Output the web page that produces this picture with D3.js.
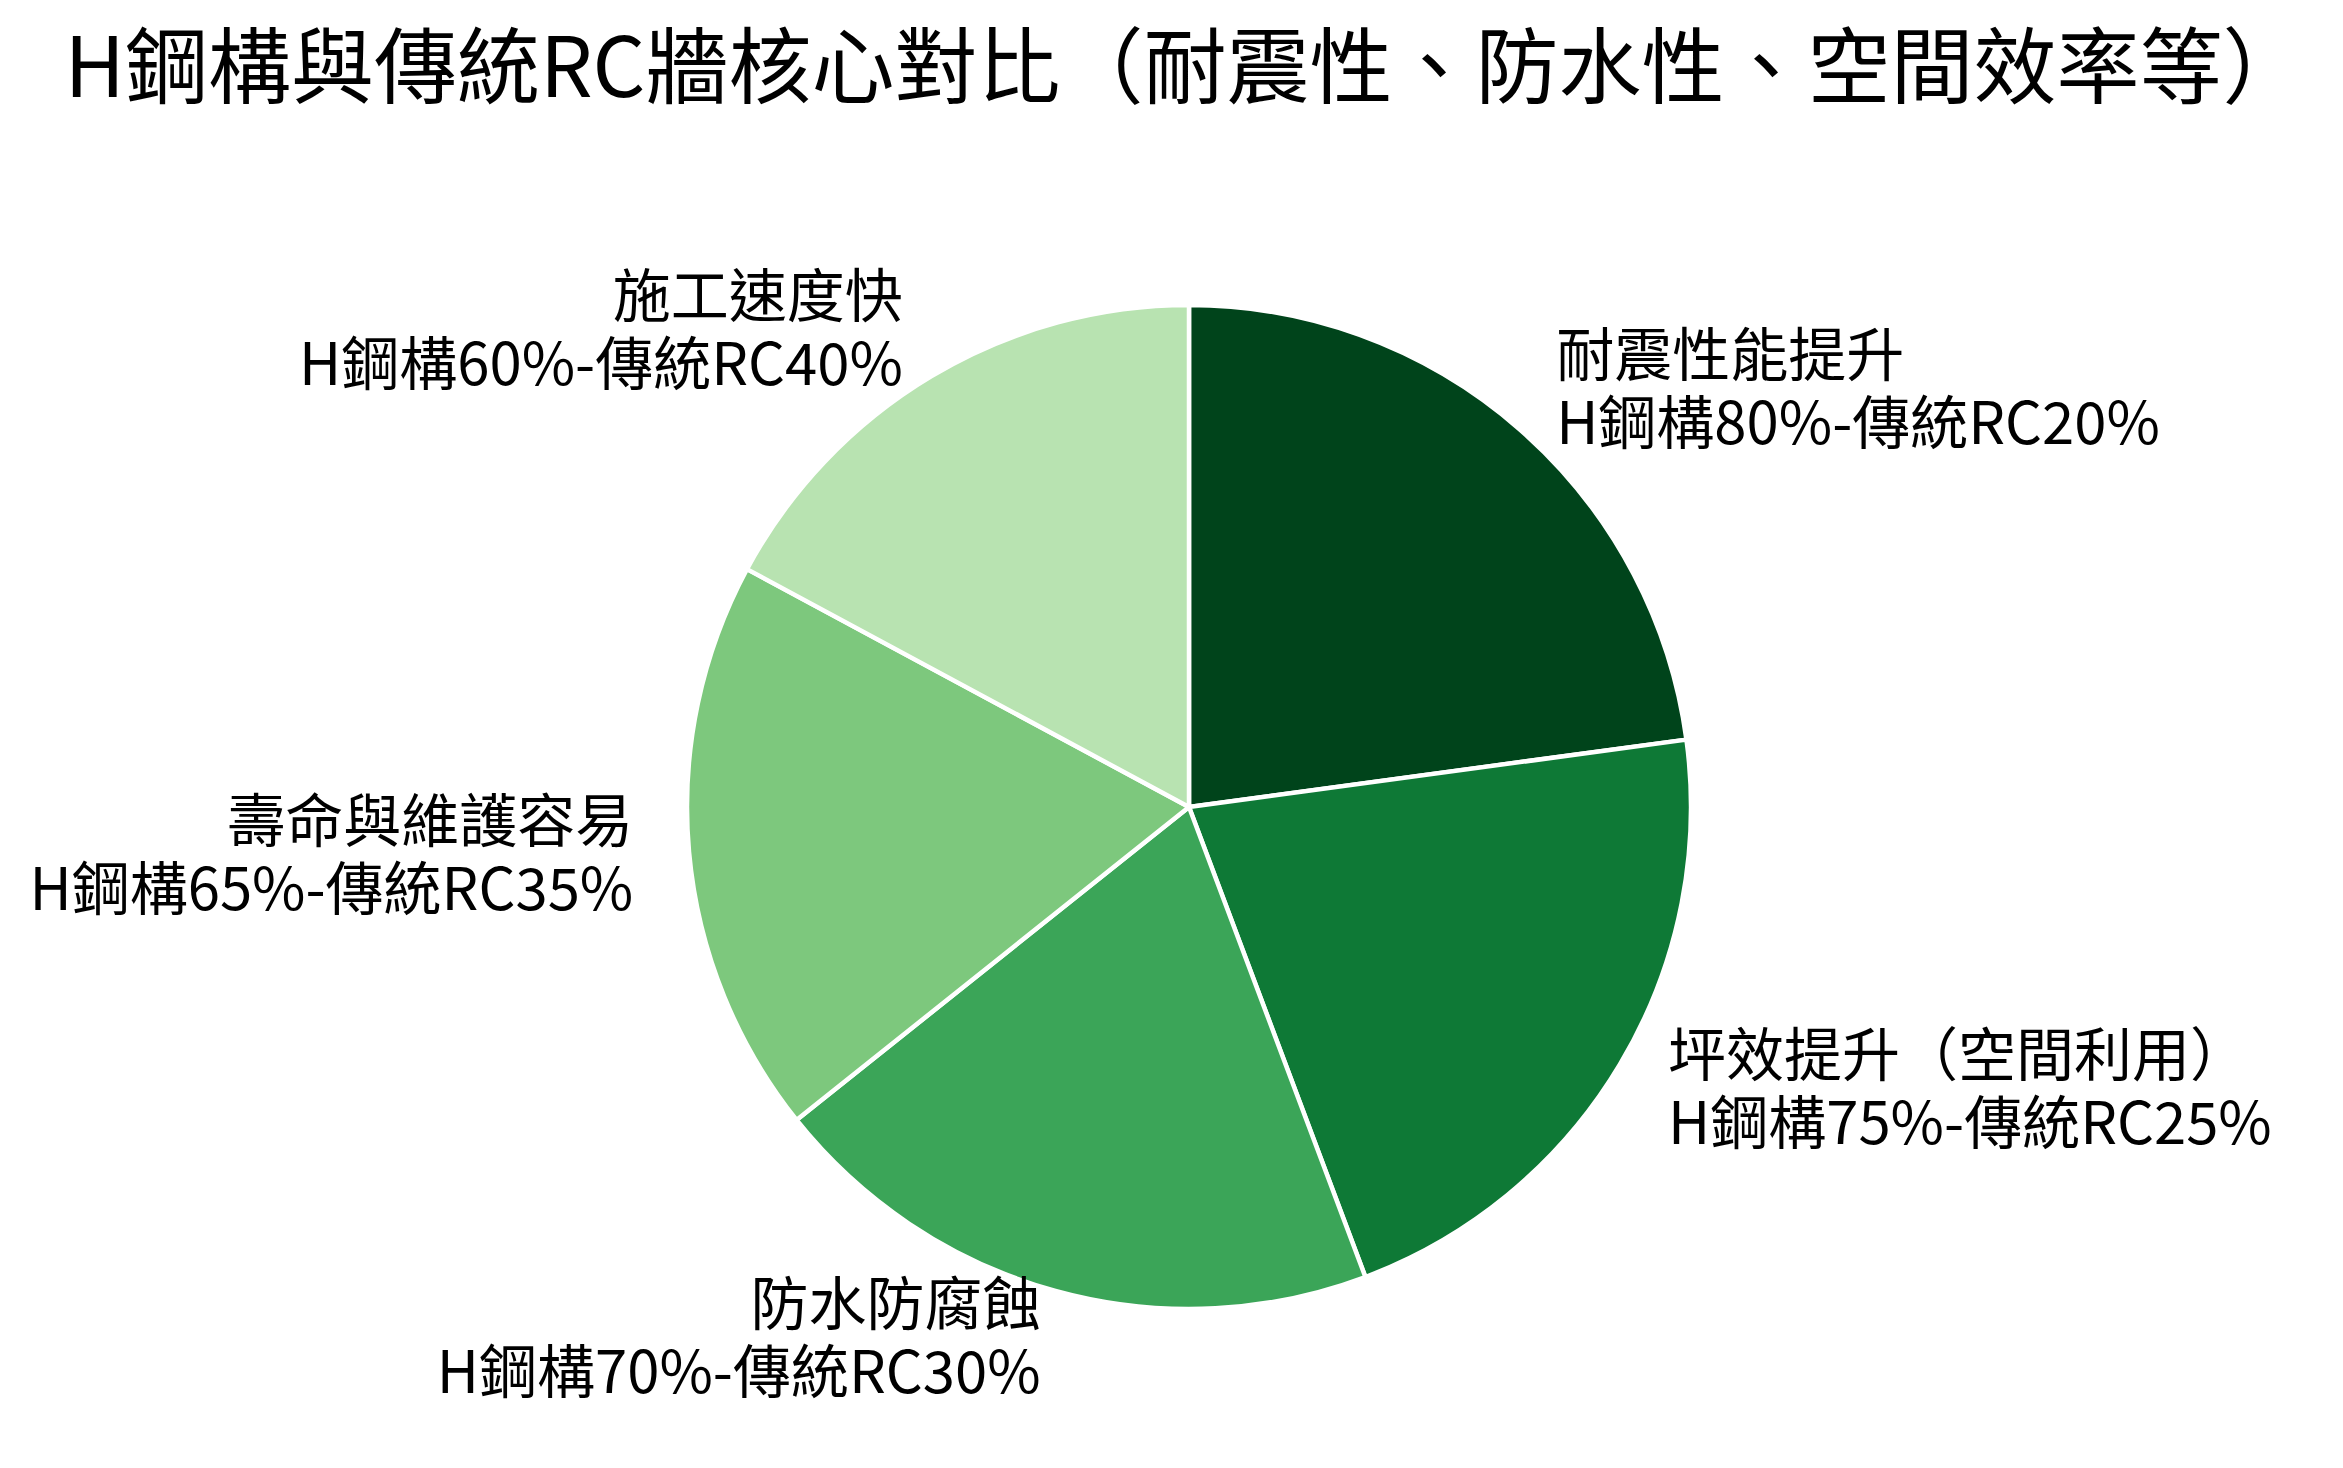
<!DOCTYPE html>
<html>
<head>
<meta charset="utf-8">
<script src="https://cdn.jsdelivr.net/npm/d3@7"></script>
<style>
  html, body { margin: 0; padding: 0; background: #fff; }
  svg { display: block; }
  text { font-family: "Noto Sans CJK TC", "Noto Sans CJK SC", "Noto Sans", sans-serif; fill: #000; }
</style>
</head>
<body>
<script>
const titleText = "H鋼構與傳統RC牆核心對比（耐震性、防水性、空間效率等）";
const categories = ["耐震性能提升", "坪效提升（空間利用）", "防水防腐蝕", "壽命與維護容易", "施工速度快"];
const steelValues = [80, 75, 70, 65, 60];
const rcValues = [20, 25, 30, 35, 40];
const greens9 = ["#f7fcf5", "#e5f5e0", "#c7e9c0", "#a1d99b", "#74c476", "#41ab5d", "#238b45", "#006d2c", "#00441b"];

const W = 2343, H = 1468;
const cx = 1189, cy = 807, R = 502;
const labelRx = 558, labelRy = 553, labelDy = -4;
const fontSize = 58, linePitch = 68;

const svg = d3.select("body").append("svg").attr("width", W).attr("height", H);

svg.append("text")
  .attr("x", 1185).attr("y", 97)
  .attr("text-anchor", "middle")
  .style("font-size", "83px")
  .text(titleText);

const data = categories.map((c, i) => ({ cat: c, steel: steelValues[i], rc: rcValues[i] }));

const greensInterp = d3.piecewise(d3.interpolateRgb, greens9);
const tScale = d3.scaleLinear().domain([d3.min(steelValues), d3.max(steelValues)]).range([0.3, 1.0]);

const pie = d3.pie().sort(null).value(d => d.steel);
const arcs = pie(data);
const arc = d3.arc().innerRadius(0).outerRadius(R);

const g = svg.append("g").attr("transform", `translate(${cx},${cy})`);

g.selectAll("path").data(arcs).join("path")
  .attr("d", arc)
  .attr("fill", d => greensInterp(tScale(d.data.steel)))
  .attr("stroke", "#fff")
  .attr("stroke-width", 4.5)
  .attr("stroke-linejoin", "round");

g.selectAll("text.lbl").data(arcs).join("text")
  .attr("class", "lbl")
  .style("font-size", fontSize + "px")
  .attr("text-anchor", d => {
    const a = (d.startAngle + d.endAngle) / 2;
    return Math.sin(a) >= 0 ? "start" : "end";
  })
  .each(function(d) {
    const a = (d.startAngle + d.endAngle) / 2;
    const x = labelRx * Math.sin(a);
    const y = -labelRy * Math.cos(a) + labelDy;
    const t = d3.select(this);
    t.append("tspan").attr("x", x).attr("y", y - 11).text(d.data.cat);
    t.append("tspan").attr("x", x).attr("y", y - 11 + linePitch)
      .text(`H鋼構${d.data.steel}%-傳統RC${d.data.rc}%`);
  });
</script>
</body>
</html>
